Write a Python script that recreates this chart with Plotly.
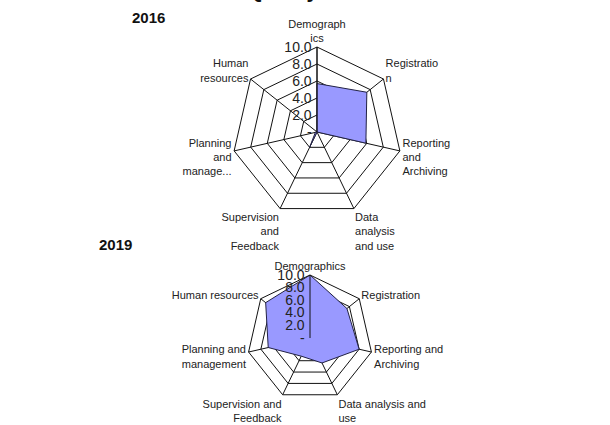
import plotly.graph_objects as go

categories_2016 = ["Demograph<br>ics", "Registratio<br>n", "Reporting<br>and<br>Archiving",
                   "Data<br>analysis<br>and use", "Supervision<br>and<br>Feedback",
                   "Planning<br>and<br>manage...", "Human<br>resources"]
categories_2019 = ["Demographics", "Registration", "Reporting and<br>Archiving",
                   "Data analysis and<br>use", "Supervision and<br>Feedback",
                   "Planning and<br>management", "Human resources"]
values_2016 = [5.7, 7.5, 5.9, 0.0, 2.0, 0.2, 0.0]
values_2019 = [10.0, 7.5, 8.0, 4.4, 3.2, 6.8, 9.0]
tick_vals = [0, 2, 4, 6, 8, 10]
tick_text = ["-", "2.0", "4.0", "6.0", "8.0", "10.0"]

FILL = "#9999FF"
FONT = dict(family="Liberation Sans, Arial, sans-serif", size=11, color="#222222")

fig = go.Figure()
fig.add_trace(go.Scatterpolar(
    r=values_2016 + values_2016[:1], theta=categories_2016 + categories_2016[:1],
    fill="toself", fillcolor=FILL, mode="lines",
    line=dict(color="#222244", width=1), subplot="polar", showlegend=False))
fig.add_trace(go.Scatterpolar(
    r=values_2019 + values_2019[:1], theta=categories_2019 + categories_2019[:1],
    fill="toself", fillcolor=FILL, mode="lines",
    line=dict(color="#222244", width=1), subplot="polar2", showlegend=False))


def polar_style(cats, xd, yd):
    return dict(
        domain=dict(x=xd, y=yd),
        gridshape="linear",
        bgcolor="white",
        angularaxis=dict(rotation=90, direction="clockwise", type="category",
                         categoryarray=cats, linecolor="#111111", linewidth=1,
                         gridcolor="#111111", gridwidth=1, showticklabels=True,
                         ticks="", tickfont=FONT, layer="above traces"),
        radialaxis=dict(range=[0, 10], tickvals=tick_vals, ticktext=tick_text,
                        angle=90, tickangle=90, side="counterclockwise",
                        showline=True, linecolor="#111111", linewidth=1,
                        gridcolor="#111111", gridwidth=1, ticks="",
                        tickfont=dict(family="Liberation Sans, Arial, sans-serif", size=14, color="#222222"),
                        layer="above traces"),
    )


W, H = 610, 425
c1, r1 = (317, 132), 85
c2, r2 = (310, 338), 63
fig.update_layout(
    width=W, height=H,
    margin=dict(l=0, r=0, t=0, b=0),
    paper_bgcolor="white",
    polar=polar_style(categories_2016,
                      [(c1[0] - r1) / W, (c1[0] + r1) / W],
                      [1 - (c1[1] + r1) / H, 1 - (c1[1] - r1) / H]),
    polar2=polar_style(categories_2019,
                       [(c2[0] - r2) / W, (c2[0] + r2) / W],
                       [max(0, 1 - (c2[1] + r2) / H), 1 - (c2[1] - r2) / H]),
    annotations=[
        dict(text="<b>Quality index of EHMIS Pillars</b>", x=245 / W, y=1 + 9 / H,
             xref="paper", yref="paper", xanchor="left", yanchor="middle",
             showarrow=False, font=dict(family="Liberation Sans, Arial", size=21, color="#111111")),
        dict(text="<b>2016</b>", x=130 / W, y=1 - 17 / H, xref="paper", yref="paper",
             xanchor="left", yanchor="middle", showarrow=False,
             font=dict(family="Liberation Sans, Arial", size=15, color="#111111")),
        dict(text="<b>2019</b>", x=97 / W, y=1 - 244 / H, xref="paper", yref="paper",
             xanchor="left", yanchor="middle", showarrow=False,
             font=dict(family="Liberation Sans, Arial", size=15, color="#111111")),
    ],
)

fig.write_html("out.html")
